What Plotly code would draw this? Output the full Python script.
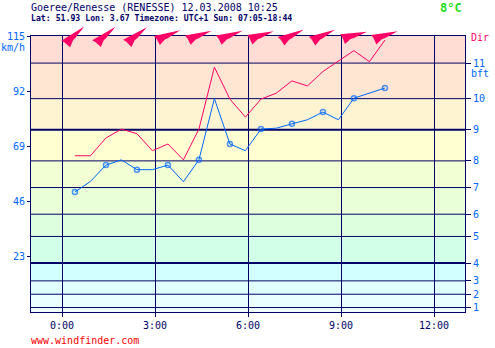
import math
import plotly.graph_objects as go

# ---- observations (local time, km/h) ----
obs_times = ["0:25", "0:55", "1:25", "1:55", "2:25", "2:55", "3:25", "3:55", "4:25", "4:55",
             "5:25", "5:55", "6:25", "6:55", "7:25", "7:55", "8:25", "8:55", "9:25", "9:55", "10:25"]
wind_kmh = [50.0, 54.4, 61.2, 63.4, 59.3, 59.3, 61.2, 54.3, 63.4, 88.9,
            70.0, 67.2, 76.2, 76.6, 78.4, 80.1, 83.3, 80.1, 89.1, 91.2, 93.3]
gust_kmh = [65.1, 65.1, 72.5, 76.2, 74.3, 67.2, 70.0, 63.4, 76.2, 102.0,
            88.7, 81.2, 88.7, 91.2, 96.3, 94.2, 100.2, 104.6, 108.9, 104.3, 113.3]

# wind direction (degrees, direction the wind comes from), hourly
dir_times = ["0:25", "1:25", "2:25", "3:25", "4:25", "5:25", "6:25", "7:25", "8:25", "9:25", "10:25"]
dir_deg = [238, 240, 242, 258, 260, 260, 262, 254, 255, 265, 262]

# Beaufort lower limits in knots (force 1..11) and band colours (force 0..11)
bft_knots = [1, 4, 7, 11, 17, 22, 28, 34, 41, 48, 56]
bft_labels = [str(i) for i in range(1, 12)]
band_colors = ["#F2FFFF", "#EAFFFF", "#E0FFFF", "#D2FFFF", "#D2FFE8", "#DEFFDE",
               "#E8FFD8", "#F2FFD4", "#FFFFD2", "#FFF4D2", "#FFE6D2", "#FFDCD4"]

speed_ticks = [23, 46, 69, 92, 115]
hour_ticks = [0, 3, 6, 9, 12]
hour_labels = ["0:00", "3:00", "6:00", "9:00", "12:00"]

NAVY = "#000066"
BLUE = "#0066FF"
MAGENTA = "#FF0066"
MONO = "DejaVu Sans Mono"

W, H = 495, 348
ML, MR, MT, MB = 31, 30, 36, 36
PW, PH = W - ML - MR, H - MT - MB
Y_MAX = 115


def hours(t):
    h, m = t.split(":")
    return int(h) + int(m) / 60.0


def px_x(px):
    return (px - ML) / PW


def px_y(py):
    return (H - MB - py) / PH


obs_h = [hours(t) for t in obs_times]
dir_h = [hours(t) for t in dir_times]
bft_kmh = [k * 1.852 for k in bft_knots]
marker_sizes = [5 if t.endswith(":25") else 0 for t in obs_times]

fig = go.Figure()

fig.add_trace(go.Scatter(
    x=obs_h, y=wind_kmh, mode="lines+markers", yaxis="y",
    line=dict(color=BLUE, width=1),
    marker=dict(symbol="circle-open", size=marker_sizes, color=BLUE, line=dict(width=1.5, color=BLUE)),
    showlegend=False, hoverinfo="skip"))
fig.add_trace(go.Scatter(
    x=obs_h, y=gust_kmh, mode="lines", yaxis="y2",
    line=dict(color=MAGENTA, width=1),
    showlegend=False, hoverinfo="skip"))

shapes = []
# Beaufort colour bands
edges = [0] + bft_kmh + [Y_MAX]
for i, col in enumerate(band_colors):
    shapes.append(dict(type="rect", xref="paper", yref="y", x0=0, x1=1,
                       y0=edges[i], y1=edges[i + 1], fillcolor=col,
                       line=dict(width=0), layer="below"))
# Beaufort limit lines (force 4 and 9 emphasised)
for lab, v in zip(bft_labels, bft_kmh):
    shapes.append(dict(type="line", xref="paper", yref="y", x0=0, x1=1, y0=v, y1=v,
                       line=dict(color=NAVY, width=2 if lab in ("4", "9") else 1),
                       layer="between"))

# direction arrows along the top edge (glyph: u along the arrow, v to its left, pixels up)
glyph = [(-13.5, 4.0), (13.5, 4.0), (0.0, -1.0), (-3.5, -1.8), (-9.5, -6.2), (-11.5, 0.5)]
for t, d in zip(dir_h, dir_deg):
    a = math.radians(90 - ((d + 180) % 360))
    ca, sa = math.cos(a), math.sin(a)
    pts = [(u * ca - v * sa, u * sa + v * ca) for u, v in glyph]
    path = "M " + " L ".join(f"{x:.2f},{y:.2f}" for x, y in pts) + " Z"
    shapes.append(dict(type="path", xref="x", yref="paper", xsizemode="pixel", ysizemode="pixel",
                       xanchor=t, yanchor=px_y(37), path=path, fillcolor=MAGENTA,
                       line=dict(width=0), layer="above"))

annotations = [
    dict(text="Goeree/Renesse (RENESSE) 12.03.2008 10:25", x=px_x(29), y=px_y(7.5),
         font=dict(family=MONO, size=10, color=NAVY)),
    dict(text="<b>Lat: 51.93 Lon: 3.67 Timezone: UTC+1 Sun: 07:05-18:44</b>", x=px_x(29), y=px_y(18),
         font=dict(family=MONO, size=8.2, color=NAVY)),
    dict(text="<b>8°C</b>", x=px_x(464), y=px_y(7.5), xanchor="right",
         font=dict(family=MONO, size=12, color="#22DD22")),
    dict(text="km/h", x=px_x(-1), y=px_y(48),
         font=dict(family=MONO, size=10, color=BLUE)),
    dict(text="bft", x=px_x(469), y=px_y(73),
         font=dict(family=MONO, size=10, color=BLUE)),
    dict(text="Dir", x=px_x(469), y=px_y(37),
         font=dict(family=MONO, size=10, color=MAGENTA)),
    dict(text="www.windfinder.com", x=px_x(29), y=px_y(340),
         font=dict(family=MONO, size=10, color="#FF0000")),
]
for a in annotations:
    a.update(xref="paper", yref="paper", showarrow=False, yanchor="middle")
    a.setdefault("xanchor", "left")

fig.update_layout(
    width=W, height=H,
    margin=dict(l=ML, r=MR, t=MT, b=MB, pad=0, autoexpand=False),
    paper_bgcolor="white", plot_bgcolor="white",
    showlegend=False,
    shapes=shapes,
    annotations=annotations,
    xaxis=dict(range=[-1, 13], tickvals=hour_ticks, ticktext=hour_labels, automargin=False,
               showgrid=True, gridcolor=NAVY, gridwidth=1, zeroline=False,
               showline=True, mirror=True, linecolor=NAVY, linewidth=1,
               ticks="outside", ticklen=4, tickcolor=NAVY,
               tickfont=dict(family=MONO, size=10, color=NAVY)),
    yaxis=dict(range=[0, Y_MAX], tickvals=speed_ticks, showgrid=False, zeroline=False,
               automargin=False,
               showline=True, mirror=True, linecolor=NAVY, linewidth=1,
               ticks="outside", ticklen=3, tickcolor=NAVY,
               tickfont=dict(family=MONO, size=10, color=BLUE)),
    yaxis2=dict(range=[0, Y_MAX], overlaying="y", side="right", anchor="x", automargin=False,
                tickvals=bft_kmh, ticktext=bft_labels, showgrid=False, zeroline=False,
                showline=False, ticks="outside", ticklen=5, tickcolor=NAVY,
                tickfont=dict(family=MONO, size=10, color=BLUE)),
)

fig.write_html("out.html")
